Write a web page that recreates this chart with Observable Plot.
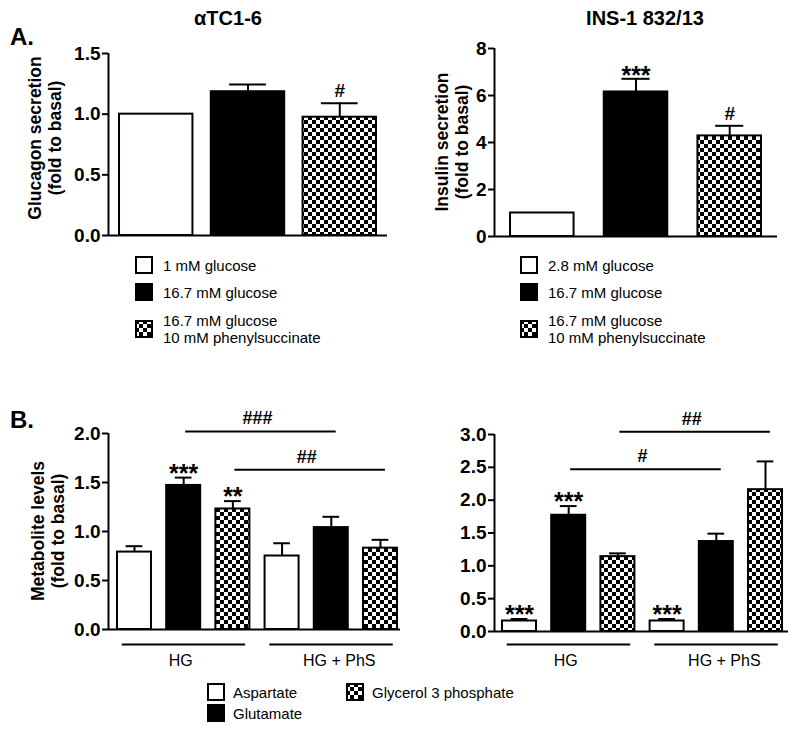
<!DOCTYPE html>
<html><head><meta charset="utf-8">
<script src="https://cdn.jsdelivr.net/npm/d3@7"></script>
<script src="https://cdn.jsdelivr.net/npm/@observablehq/plot@0.6"></script>
<style>
body{margin:0;background:#fff;font-family:"Liberation Sans",Arial,sans-serif;color:#000;}
#fig{position:relative;width:800px;height:730px;overflow:hidden;background:#fff;}
.ttl{position:absolute;font-weight:bold;font-size:20px;line-height:20px;white-space:nowrap;transform:translateX(-50%);}
.lett{position:absolute;font-weight:bold;font-size:24px;line-height:24px;}
.ylab{position:absolute;font-weight:bold;font-size:17.5px;line-height:20px;white-space:pre;text-align:center;transform:translate(-50%,-50%) rotate(-90deg);}
.leg{position:absolute;display:flex;align-items:center;transform:translateY(-50%);font-size:15px;line-height:17px;white-space:pre;}
.leg svg{flex:none;}
</style></head><body>
<svg width="0" height="0" style="position:absolute">
<defs><pattern id="chk" patternUnits="userSpaceOnUse" width="8" height="8">
<rect width="8" height="8" fill="#fff"/><rect width="4" height="4" fill="#000"/><rect x="4" y="4" width="4" height="4" fill="#000"/></pattern></defs></svg>
<div id="fig"></div>
<script>
// ---------- data ----------
const condAlpha = ["1 mM glucose", "16.7 mM glucose", "16.7 mM glucose\n10 mM phenylsuccinate"];
const condBeta = ["2.8 mM glucose", "16.7 mM glucose", "16.7 mM glucose\n10 mM phenylsuccinate"];
const glucagon = [1.00, 1.185, 0.975];
const glucagonSem = [0, 0.06, 0.115];
const glucagonSig = ["", "", "#"];
const insulin = [1.00, 6.15, 4.28];
const insulinSem = [0, 0.56, 0.43];
const insulinSig = ["", "***", "#"];
const groups = ["HG", "HG + PhS"];
const metabolites = ["Aspartate", "Glutamate", "Glycerol 3 phosphate"];
const alphaMet = [0.79, 1.47, 1.23, 0.75, 1.04, 0.83];
const alphaMetSem = [0.06, 0.08, 0.08, 0.13, 0.11, 0.085];
const alphaMetSig = ["", "***", "**", "", "", ""];
const betaMet = [0.16, 1.77, 1.14, 0.16, 1.37, 2.16];
const betaMetSem = [0.03, 0.14, 0.05, 0.03, 0.12, 0.43];
const betaMetSig = ["***", "***", "", "***", "", ""];
// comparisons between bars (bar order: group x metabolite)
const alphaBrackets = [{from: 1, to: 4, level: 2.02, label: "###"}, {from: 2, to: 5, level: 1.63, label: "##"}];
const betaBrackets = [{from: 1, to: 4, level: 2.47, label: "#"}, {from: 2, to: 5, level: 3.04, label: "##"}];
const titles = ["\u03b1TC1-6", "INS-1 832/13"];
const yLabelsA = ["Glucagon secretion\n(fold to basal)", "Insulin secretion\n(fold to basal)"];
const yLabelB = "Metabolite levels\n(fold to basal)";

// ---------- styles ----------
const fills = ["#fff", "#000", "url(#chk)"];
const FONT = "'Liberation Sans', Arial, sans-serif";
const fig = document.getElementById("fig");

function panel(o) {
  const rows = o.values.map((v, i) => ({i, v, e: o.sems[i], s: o.sigs[i], k: i % 3}));
  const withErr = rows.filter(d => d.e > 0);
  const marks = [
    Plot.rectY(rows, {x1: d => d.i - o.halfW, x2: d => d.i + o.halfW, y1: 0, y2: "v",
      fill: d => fills[d.k], stroke: "#000", strokeWidth: 2}),
    Plot.ruleX(withErr, {x: "i", y1: "v", y2: d => d.v + d.e, stroke: "#000", strokeWidth: 2}),
    Plot.ruleY(withErr, {x1: d => d.i - o.cap, x2: d => d.i + o.cap, y: d => d.v + d.e, stroke: "#000", strokeWidth: 2}),
    Plot.text(rows.filter(d => d.s && d.s[0] === "*"), {x: "i", y: d => d.v + d.e, text: "s",
      dy: o.starDy, fontSize: 25, fontWeight: "bold", fill: "#000"}),
    Plot.text(rows.filter(d => d.s && d.s[0] === "#"), {x: "i", y: d => d.v + d.e, text: "s",
      dy: -12, fontSize: 19, fontWeight: "bold", fill: "#000"}),
    Plot.ruleY([0], {x1: o.xDomain[0], x2: o.xDomain[1], stroke: "#000", strokeWidth: 2}),
    Plot.ruleX([o.xDomain[0]], {y1: o.yDomain[0], y2: o.yDomain[1], stroke: "#000", strokeWidth: 2}),
    Plot.axisY({ticks: o.yTicks, tickFormat: o.tickFormat, tickSize: 6, tickPadding: 2, strokeWidth: 2,
      fontSize: 19, fontWeight: "bold", label: null, fill: "#000"})
  ];
  if (o.brackets) {
    marks.push(Plot.ruleY(o.brackets, {x1: d => d.from + 0.04, x2: d => d.to + 0.1, y: "level", stroke: "#000", strokeWidth: 2}));
    marks.push(Plot.text(o.brackets, {x: d => (d.from + d.to) / 2, y: "level", text: "label", dy: -13,
      fontSize: 18, fontWeight: "bold", fill: "#000"}));
  }
  if (o.groupRows) {
    marks.push(Plot.ruleY(o.groupRows, {x1: d => d.first - 0.25, x2: d => d.last + 0.26, y: 0, dy: o.groupDy,
      stroke: "#000", strokeWidth: 2}));
    marks.push(Plot.text(o.groupRows.slice(0, 1), {x: d => (d.first + d.last) / 2, y: 0, dy: o.groupDy + 16,
      dx: -3, text: "label", fontSize: 16, fontWeight: "normal", fill: "#000"}));
    marks.push(Plot.text(o.groupRows.slice(1), {x: d => (d.first + d.last) / 2, y: 0, dy: o.groupDy + 16,
      dx: 8, text: "label", fontSize: 16, fontWeight: "normal", fill: "#000"}));
  }
  const svg = Plot.plot({
    width: o.width, height: o.height,
    marginTop: o.mt, marginBottom: o.mb, marginLeft: o.ml, marginRight: o.mr,
    x: {domain: o.xDomain, axis: null},
    y: {domain: o.yDomain},
    style: {fontFamily: FONT, fontSize: "19px", fontWeight: "bold", color: "#000", background: "transparent", overflow: "visible"},
    marks
  });
  svg.style.position = "absolute";
  svg.style.left = o.left + "px";
  svg.style.top = o.top + "px";
  svg.style.maxWidth = "none";
  fig.appendChild(svg);
}

const groupRows = groups.map((g, gi) => ({label: g, first: gi * metabolites.length, last: gi * metabolites.length + metabolites.length - 1}));

panel({values: glucagon, sems: glucagonSem, sigs: glucagonSig, left: 0, top: 0, width: 400, height: 250,
  mt: 53, mb: 15, ml: 108, mr: 13, xDomain: [-0.52, 2.52], halfW: 0.40, cap: 0.2,
  yDomain: [0, 1.5], yTicks: [0, 0.5, 1, 1.5], tickFormat: d3.format(".1f"), starDy: -3});
panel({values: insulin, sems: insulinSem, sigs: insulinSig, left: 400, top: 0, width: 400, height: 250,
  mt: 48, mb: 14, ml: 94, mr: 23, xDomain: [-0.51, 2.51], halfW: 0.339, cap: 0.15,
  yDomain: [0, 8], yTicks: [0, 2, 4, 6, 8], tickFormat: d3.format("d"), starDy: -3});
panel({values: alphaMet, sems: alphaMetSem, sigs: alphaMetSig, left: 0, top: 380, width: 400, height: 320,
  mt: 53, mb: 71, ml: 108, mr: 0, xDomain: [-0.528, 5.407], halfW: 0.3455, cap: 0.17,
  yDomain: [0, 2], yTicks: [0, 0.5, 1, 1.5, 2], tickFormat: d3.format(".1f"), starDy: -4,
  brackets: alphaBrackets, groupRows, groupDy: 15});
panel({values: betaMet, sems: betaMetSem, sigs: betaMetSig, left: 400, top: 380, width: 400, height: 320,
  mt: 54, mb: 69, ml: 94, mr: 12, xDomain: [-0.508, 5.467], halfW: 0.3455, cap: 0.17,
  yDomain: [0, 3], yTicks: [0, 0.5, 1, 1.5, 2, 2.5, 3], tickFormat: d3.format(".1f"), starDy: -4,
  brackets: betaBrackets, groupRows, groupDy: 13});

// ---------- text elements ----------
function addDiv(cls, text, css) {
  const d = document.createElement("div");
  d.className = cls;
  d.textContent = text;
  Object.assign(d.style, css);
  fig.appendChild(d);
  return d;
}
addDiv("ttl", titles[0], {left: "228px", top: "8px"});
addDiv("ttl", titles[1], {left: "645px", top: "8px"});
addDiv("lett", "A.", {left: "10px", top: "25px"});
addDiv("lett", "B.", {left: "10px", top: "408px"});
addDiv("ylab", yLabelsA[0], {left: "45px", top: "138px"});
addDiv("ylab", yLabelsA[1], {left: "452px", top: "142px"});
addDiv("ylab", yLabelB, {left: "48px", top: "531px"});

function legendItem(x, cy, k, label, gap) {
  const d = document.createElement("div");
  d.className = "leg";
  d.style.left = x + "px";
  d.style.top = cy + "px";
  const ns = "http://www.w3.org/2000/svg";
  const s = document.createElementNS(ns, "svg");
  s.setAttribute("width", 18); s.setAttribute("height", 18);
  s.style.marginRight = gap + "px";
  const r = document.createElementNS(ns, "rect");
  r.setAttribute("x", 1); r.setAttribute("y", 1); r.setAttribute("width", 16); r.setAttribute("height", 16);
  r.setAttribute("fill", fills[k]); r.setAttribute("stroke", "#000"); r.setAttribute("stroke-width", 2);
  s.appendChild(r);
  d.appendChild(s);
  const t = document.createElement("span");
  t.textContent = label;
  d.appendChild(t);
  fig.appendChild(d);
}
const legAy = [265, 292, 329];
condAlpha.forEach((c, k) => legendItem(135, legAy[k], k, c, 10));
condBeta.forEach((c, k) => legendItem(520, legAy[k], k, c, 10));
legendItem(207, 692, 0, metabolites[0], 8);
legendItem(207, 713, 1, metabolites[1], 8);
legendItem(346, 692, 2, metabolites[2], 8);
</script>
</body></html>
